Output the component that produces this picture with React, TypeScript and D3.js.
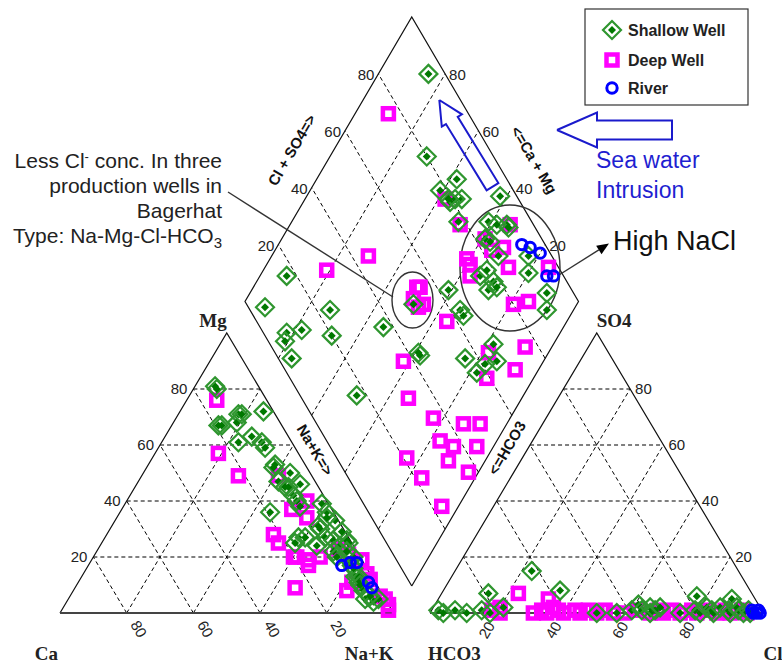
import React from 'react';
import * as d3 from 'd3';

type P = [number, number];

// cation triangle: [Na+K %, Mg %]
const shallowCation: P[] = [
  [6, 81], [7, 80], [18, 71], [25, 72], [14, 67], [19, 68], [23, 61], [26, 63], [30, 61], [32, 59],
  [38, 53], [44, 50], [42, 47], [45, 45], [49, 46], [49, 42], [51, 40], [45, 36], [59, 39], [62, 36],
  [66, 33], [58, 27], [63, 30], [66, 27], [69, 26], [72, 24], [73, 26], [71, 22], [73, 20], [77, 19],
  [79, 17], [82, 13], [84, 11], [87, 8], [89, 5], [92, 4], [65, 24], [58, 25], [60, 27], [62, 31],
  [63, 34], [74, 25], [78, 20], [83, 13], [93, 5], [38, 52], [46, 45], [53, 38], [15, 67], [19, 71],
  [70, 29], [75, 22], [80, 16], [85, 10], [90, 6],
];
const deepCation: P[] = [
  [9, 76], [19, 57], [29, 49], [41, 49], [51, 37], [54, 40], [57, 34], [50, 28], [53, 25], [61, 20],
  [65, 19], [66, 17], [68, 20], [66, 9], [81, 19], [82, 8], [87, 12], [93, 6], [97, 3], [98, 1],
  [60, 20], [82, 11], [95, 5], [72, 23], [76, 21], [85, 14],
];
const riverCation: P[] = [[76, 17], [78, 18], [80, 18], [87, 11], [89, 9]];

// anion triangle: [Cl %, SO4 %]
const shallowAnion: P[] = [
  [2, 1], [4, 0], [7, 1], [11, 0], [15, 1], [18, 0], [14, 7], [21, 2], [23, 15], [35, 8],
  [50, 0], [56, 0], [60, 1], [61, 3], [63, 1], [65, 2], [66, 0], [67, 1], [68, 2], [75, 0],
  [77, 6], [79, 1], [81, 0], [82, 2], [84, 1], [85, 0], [86, 2], [88, 5], [89, 1], [90, 0],
  [91, 2], [92, 1], [94, 0], [95, 1], [96, 0],
];
const deepAnion: P[] = [
  [18, 1], [20, 2], [21, 0], [23, 7], [31, 0], [33, 1], [33, 5], [35, 0], [36, 2], [38, 1],
  [40, 0], [43, 1], [45, 0], [47, 1], [50, 0], [52, 1], [55, 0], [58, 0], [62, 1], [66, 0],
  [68, 1], [70, 0], [72, 1], [75, 0], [78, 1], [80, 0], [83, 1], [86, 0], [88, 1], [90, 0],
  [93, 1], [95, 0],
];
const riverAnion: P[] = [[96, 1], [97, 0], [98, 1], [99, 0], [98, 0]];

// diamond: [Cl+SO4 %, Ca+Mg %]
const shallowDiamond: P[] = [
  [95, 85], [80, 71], [85, 58], [78, 61], [79, 56], [83, 53], [81, 55], [95, 42], [78, 50], [87, 41],
  [92, 35], [89, 38], [83, 39], [84, 37], [84, 32], [93, 23], [75, 34], [78, 33], [90, 20], [78, 29],
  [75, 29], [78, 27], [63, 41], [92, 11], [89, 8], [63, 34], [63, 32], [17, 92], [5, 93], [24, 73],
  [12, 78], [7, 82], [5, 81], [20, 68], [4, 76], [37, 54], [17, 50], [50, 49], [43, 38], [43, 39],
  [56, 24], [57, 18], [61, 17], [67, 18], [65, 14], [92, 34], [79, 57],
];
const deepDiamond: P[] = [
  [76, 90], [78, 58], [78, 49], [83, 39], [93, 34], [87, 32], [74, 41], [74, 39], [72, 37], [85, 27],
  [83, 35], [97, 15], [80, 19], [85, 15], [57, 36], [54, 51], [55, 50], [51, 50], [51, 47], [53, 46],
  [30, 81], [45, 71], [37, 42], [32, 34], [36, 23], [44, 13], [49, 8], [34, 17], [37, 12], [44, 5],
  [33, 11], [21, 24], [22, 16], [37, 3], [23, 5], [76, 8], [69, 7], [59, 14], [64, 18],
];
const riverDiamond: P[] = [[93, 27], [95, 24], [97, 20], [95, 14], [97, 12]];

const gridTicks = [20, 40, 60, 80];
const seriesNames = ['Shallow Well', 'Deep Well', 'River'];

const SANS = 'Liberation Sans, Arial, sans-serif';
const SERIF = 'Liberation Serif, Times New Roman, serif';

// layout
const triW = 333.5;
const xCat = d3.scaleLinear().domain([0, 100]).range([60, 60 + triW]);
const xAn = d3.scaleLinear().domain([0, 100]).range([430, 430 + triW]);
const yTri = d3.scaleLinear().domain([0, 100]).range([613, 333]);
const dmX = d3.scaleLinear().domain([-100, 100]).range([411.75 - triW / 2, 411.75 + triW / 2]);
const dmY = d3.scaleLinear().domain([0, 200]).range([586, 17]);

const catPos = ([na, mg]: P): P => [xCat(na + mg / 2), yTri(mg)];
const anPos = ([cl, so4]: P): P => [xAn(cl + so4 / 2), yTri(so4)];
const dmPos = ([cs, cm]: P): P => [dmX(cs - cm), dmY(cs + cm)];

const line = d3.line();

const Shallow = ({ x, y }: { x: number; y: number }) => (
  <g transform={`translate(${x},${y})`}>
    <path d="M0,-9L9,0L0,9L-9,0Z" fill="none" stroke="#2f962f" strokeWidth={2.2} />
    <path d="M0,-4L4,0L0,4L-4,0Z" fill="#007800" />
  </g>
);
const Deep = ({ x, y }: { x: number; y: number }) => (
  <rect x={x - 5.5} y={y - 5.5} width={11} height={11} fill="none" stroke="#ff00ff" strokeWidth={4.5} />
);
const River = ({ x, y }: { x: number; y: number }) => (
  <circle cx={x} cy={y} r={5.2} fill="none" stroke="#0000ff" strokeWidth={3} />
);

function blockArrow(tip: P, ang: number, len: number, headLen: number, headHalf: number, shaftHalf: number) {
  const u: P = [Math.cos(ang), Math.sin(ang)];
  const p: P = [-u[1], u[0]];
  const at = (a: number, b: number): P => [tip[0] + a * u[0] + b * p[0], tip[1] + a * u[1] + b * p[1]];
  return line([
    tip, at(headLen, headHalf), at(headLen, shaftHalf), at(len, shaftHalf),
    at(len, -shaftHalf), at(headLen, -shaftHalf), at(headLen, -headHalf), tip,
  ]) as string;
}

function triangleGrid(pos: (p: P) => P) {
  const segs: [P, P][] = [];
  gridTicks.forEach((v) => {
    segs.push([pos([0, v]), pos([100 - v, v])]);
    segs.push([pos([v, 0]), pos([v, 100 - v])]);
    segs.push([pos([100 - v, 0]), pos([0, 100 - v])]);
  });
  return segs;
}

export default function App() {
  const dmGrid: [P, P][] = [];
  gridTicks.forEach((v) => {
    dmGrid.push([dmPos([v, 0]), dmPos([v, 100])]);
    dmGrid.push([dmPos([0, v]), dmPos([100, v])]);
  });
  const grids = [...triangleGrid(catPos), ...triangleGrid(anPos), ...dmGrid];

  const catOutline = [catPos([0, 0]), catPos([100, 0]), catPos([0, 100])];
  const anOutline = [anPos([0, 0]), anPos([100, 0]), anPos([0, 100])];
  const dmOutline = [dmPos([0, 0]), dmPos([0, 100]), dmPos([100, 100]), dmPos([100, 0])];

  const allDeep = [...deepCation.map(catPos), ...deepAnion.map(anPos), ...deepDiamond.map(dmPos)];
  const allShallow = [...shallowCation.map(catPos), ...shallowAnion.map(anPos), ...shallowDiamond.map(dmPos)];
  const allRiver = [...riverCation.map(catPos), ...riverAnion.map(anPos), ...riverDiamond.map(dmPos)];

  // High NaCl pointer
  const ptrFrom: P = [559, 275];
  const ptrTip: P = [609, 243.5];
  const pd = Math.hypot(ptrTip[0] - ptrFrom[0], ptrTip[1] - ptrFrom[1]);
  const pu: P = [(ptrTip[0] - ptrFrom[0]) / pd, (ptrTip[1] - ptrFrom[1]) / pd];
  const pp: P = [-pu[1], pu[0]];
  const headBase: P = [ptrTip[0] - 12 * pu[0], ptrTip[1] - 12 * pu[1]];

  const tickStyle = { fontFamily: SANS, fontSize: 15, fill: '#222' };
  const axStyle = { fontFamily: SANS, fontSize: 15, fontWeight: 700, fill: '#111' };
  const cornerStyle = { fontFamily: SERIF, fontSize: 19, fontWeight: 700, fill: '#222' };

  return (
    <svg width={782} height={664} style={{ position: 'absolute', left: 0, top: 0, background: '#fff' }}>
      <rect width={782} height={664} fill="#fff" />
      {/* grid */}
      <g stroke="#000" strokeWidth={1} strokeDasharray="4 3" fill="none">
        {grids.map((s, i) => <path key={i} d={line(s) as string} />)}
      </g>
      {/* outlines */}
      <g fill="none" stroke="#111" strokeWidth={1.2}>
        <path d={line([...catOutline, catOutline[0]]) as string} />
        <path d={line([...anOutline, anOutline[0]]) as string} />
        <path d={line([...dmOutline, dmOutline[0]]) as string} />
      </g>
      <g stroke="#444" strokeWidth={2}>
        <path d={line([catOutline[0], catOutline[1]]) as string} />
        <path d={line([anOutline[0], anOutline[1]]) as string} />
      </g>

      {/* tick labels */}
      <g style={tickStyle}>
        {gridTicks.map((v) => {
          const [x, y] = catPos([0, v]);
          return <text key={'mg' + v} x={x - 6} y={y + 5} textAnchor="end">{v}</text>;
        })}
        {gridTicks.map((v) => {
          const x = xCat(100 - v);
          return (
            <text key={'ca' + v} transform={`translate(${x + 12},${yTri(0) + 16}) rotate(60)`} textAnchor="middle" dy="0.35em">{v}</text>
          );
        })}
        {gridTicks.map((v) => {
          const [x, y] = anPos([100 - v, v]);
          return <text key={'so' + v} x={x + 5} y={y + 5} textAnchor="start">{v}</text>;
        })}
        {gridTicks.map((v) => {
          const x = xAn(v);
          return (
            <text key={'cl' + v} transform={`translate(${x - 10},${yTri(0) + 17}) rotate(-60)`} textAnchor="middle" dy="0.35em">{v}</text>
          );
        })}
        {gridTicks.map((v) => {
          const [x, y] = dmPos([v, 100]);
          return <text key={'cs' + v} x={x - 4} y={y + 6} textAnchor="end">{v}</text>;
        })}
        {gridTicks.map((v) => {
          const [x, y] = dmPos([100, v]);
          return <text key={'cm' + v} x={x + 4} y={y + 6} textAnchor="start">{v}</text>;
        })}
      </g>

      {/* diamond axis titles */}
      <g style={axStyle}>
        <text transform="translate(292,150) rotate(-59.5)" textAnchor="middle" dy="0.35em">Cl + SO4=&gt;</text>
        <text transform="translate(534,160) rotate(59.5)" textAnchor="middle" dy="0.35em">&lt;=Ca + Mg</text>
        <text transform="translate(315,450) rotate(59.5)" textAnchor="middle" dy="0.35em">Na+K=&gt;</text>
        <text transform="translate(507,448) rotate(-59.5)" textAnchor="middle" dy="0.35em">&lt;=HCO3</text>
      </g>

      {/* corner labels */}
      <g style={cornerStyle}>
        <text x={catOutline[2][0]} y={327} textAnchor="end">Mg</text>
        <text x={catOutline[0][0] - 2} y={660} textAnchor="end">Ca</text>
        <text x={catOutline[1][0]} y={660} textAnchor="end">Na+K</text>
        <text x={anOutline[2][0]} y={327} textAnchor="start">SO4</text>
        <text x={anOutline[0][0] - 2} y={660} textAnchor="start">HCO3</text>
        <text x={anOutline[1][0]} y={660} textAnchor="start">Cl</text>
      </g>

      {/* ellipses and pointer */}
      <g fill="none" stroke="#333" strokeWidth={1.4}>
        <ellipse cx={510} cy={268} rx={50} ry={63} />
        <ellipse cx={412.5} cy={300} rx={20.5} ry={28} />
        <path d={line([[228, 192], [393, 297]]) as string} />
        <path d={line([ptrFrom, headBase]) as string} />
      </g>
      <path
        d={line([ptrTip, [headBase[0] + 5 * pp[0], headBase[1] + 5 * pp[1]], [headBase[0] - 5 * pp[0], headBase[1] - 5 * pp[1]], ptrTip]) as string}
        fill="#000"
      />

      {/* points */}
      {allDeep.map(([x, y], i) => <Deep key={'d' + i} x={x} y={y} />)}
      {allShallow.map(([x, y], i) => <Shallow key={'s' + i} x={x} y={y} />)}
      {allRiver.map(([x, y], i) => <River key={'r' + i} x={x} y={y} />)}

      {/* blue block arrows */}
      <g fill="none" stroke="#1a1acc" strokeWidth={2}>
        <path d={blockArrow([439.3, 100], Math.atan2(86.7, 53.2), 101.7, 24, 11.8, 6.9)} />
        <path d={blockArrow([557, 130], 0, 115, 40, 17.5, 9.5)} />
      </g>
      <g style={{ fontFamily: SANS, fontSize: 23, fill: '#1f1fd1' }}>
        <text x={596} y={168}>Sea water</text>
        <text x={596} y={198}>Intrusion</text>
      </g>
      <text x={613} y={250} style={{ fontFamily: SANS, fontSize: 27, fill: '#111' }}>High NaCl</text>

      {/* left annotation */}
      <g style={{ fontFamily: SANS, fontSize: 21, fill: '#222' }} textAnchor="end">
        <text x={222} y={168}>Less Cl<tspan dy={-7} fontSize={13}>-</tspan><tspan dy={7}> conc. In three</tspan></text>
        <text x={222} y={193}>production wells in</text>
        <text x={222} y={218}>Bagerhat</text>
        <text x={222} y={243}>Type: Na-Mg-Cl-HCO<tspan dy={5} fontSize={15}>3</tspan></text>
      </g>

      {/* legend */}
      <rect x={585} y={9} width={163} height={96} fill="#fff" stroke="#333" strokeWidth={1.2} />
      <Shallow x={612} y={30} />
      <Deep x={612} y={60} />
      <River x={612} y={88} />
      <g style={{ fontFamily: SANS, fontSize: 16, fontWeight: 700, fill: '#222' }}>
        {seriesNames.map((n, i) => (
          <text key={n} x={628} y={[30, 60, 88][i] + 6}>{n}</text>
        ))}
      </g>
    </svg>
  );
}
